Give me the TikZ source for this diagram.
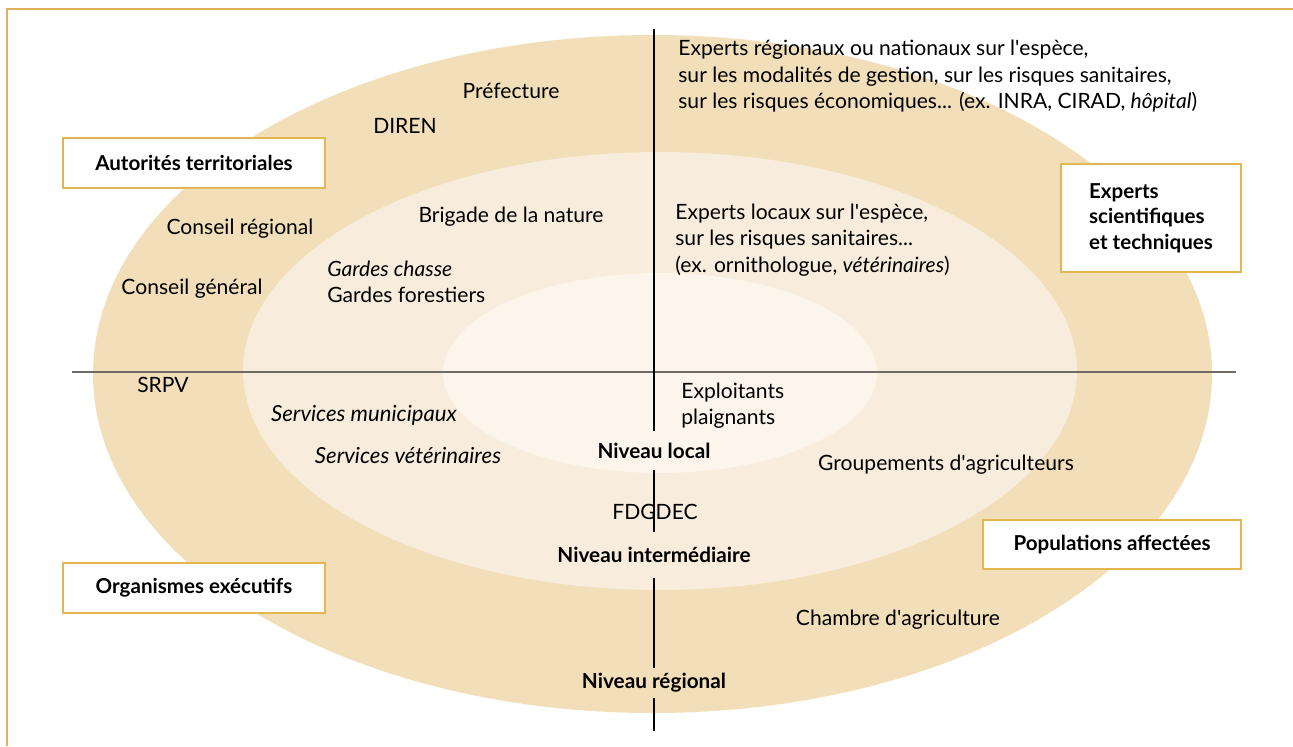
\documentclass[tikz,border=0pt]{standalone}
\usepackage{fontspec}
\setmainfont{Lato}
\definecolor{ocre}{RGB}{242,223,185}
\definecolor{creme}{RGB}{248,237,220}
\definecolor{ivoire}{RGB}{251,245,236}
\definecolor{dore}{RGB}{226,183,80}
\definecolor{cadreor}{RGB}{226,175,95}
\definecolor{gris}{RGB}{112,106,100}
\newcommand{\corps}{\fontsize{12}{15.1}\selectfont}
\newcommand{\apos}{\textquotesingle}
\tikzset{
  boite/.style={draw=dore,line width=1.1pt,fill=white,font=\fontsize{11.7}{14.5}\selectfont\bfseries,align=center},
  acteur/.style={inner sep=0pt,font=\corps},
  penche/.style={inner sep=0pt,font=\fontsize{12.6}{15.1}\selectfont\itshape},
  niveau/.style={font=\fontsize{11.8}{15}\selectfont\bfseries,inner sep=0pt,minimum width=1cm},
}
\begin{document}
\begin{tikzpicture}
  \useasboundingbox (0,0) rectangle (25.86,-14.92);
  \draw[cadreor,line width=1pt] (0.14,-14.92) -- (0.14,-0.18) -- (25.86,-0.18);
  \fill[ocre] (13.05,-7.48) ellipse (11.19 and 6.78);
  \fill[creme] (13.2,-7.42) ellipse (8.34 and 4.38);
  \fill[ivoire] (13.2,-7.46) ellipse (4.34 and 2.0);
  \coordinate (hg) at (1.44,-7.44);
  \coordinate (hd) at (24.72,-7.44);
  \coordinate (vh) at (13.08,-0.58);
  \coordinate (vb) at (13.08,-14.62);
  \draw[gris,line width=1.1pt] (hg) -- (hd);
  \node[niveau,minimum height=0.78cm] (local) at (13.08,-9.01){Niveau local};
  \node[niveau,minimum height=0.92cm] (inter) at (13.08,-11.1){Niveau intermédiaire};
  \node[niveau,minimum height=0.6cm] (regional) at (13.08,-13.66){Niveau régional};
  \draw[line width=0.7pt] (vh) -- (local.north);
  \draw[line width=0.7pt] (local.south) -- (inter.north);
  \draw[line width=0.7pt] (inter.south) -- (regional.north);
  \draw[line width=0.7pt] (regional.south) -- (vb);
  \node[boite,minimum width=5.24cm,minimum height=1cm] (autorites) at (3.88,-3.26){Autorités territoriales};
  \node[boite,minimum width=5.24cm,minimum height=1cm] (organismes) at (3.88,-11.76){Organismes exécutifs};
  \node[boite,align=left,minimum width=3.6cm,minimum height=2.16cm] (experts) at (23.02,-4.36){Experts\\scientifiques\\et techniques};
  \node[boite,minimum width=5.16cm,minimum height=0.98cm] (populations) at (22.24,-10.89){Populations affectées};
  \node[acteur] (prefecture) at (10.22,-1.82){Préfecture};
  \node[acteur] (diren) at (8.1,-2.52){DIREN};
  \node[acteur] (cregional) at (4.8,-4.58){Conseil régional};
  \node[acteur] (cgeneral) at (3.84,-5.78){Conseil général};
  \node[acteur] (brigade) at (10.22,-4.34){Brigade de la nature};
  \node[acteur,anchor=west,align=left] (gardes) at (6.54,-5.64){\itshape Gardes chasse\\Gardes forestiers};
  \node[acteur] (srpv) at (3.26,-7.7){SRPV};
  \node[penche] (municipaux) at (7.28,-8.3){Services municipaux};
  \node[penche] (veterinaires) at (8.16,-9.12){Services vétérinaires};
  \node[acteur] (fdgdec) at (13.1,-10.24){FDGDEC};
  \node[acteur] (chambre) at (17.96,-12.4){Chambre d\apos agriculture};
  \node[acteur,anchor=west,align=left] (expregionaux) at (13.56,-1.53){Experts régionaux ou nationaux sur l\apos espèce,\\sur les modalités de gestion, sur les risques sanitaires,\\sur les risques économiques... (ex. INRA, CIRAD, \textit{hôpital})};
  \node[acteur,anchor=west,align=left] (explocaux) at (13.5,-4.8){Experts locaux sur l\apos espèce,\\sur les risques sanitaires...\\(ex. ornithologue, \textit{vétérinaires})};
  \node[acteur,anchor=west,align=left] (exploitants) at (13.62,-8.11){Exploitants\\plaignants};
  \node[acteur] (groupements) at (18.92,-9.3){Groupements d\apos agriculteurs};
\end{tikzpicture}
\end{document}
